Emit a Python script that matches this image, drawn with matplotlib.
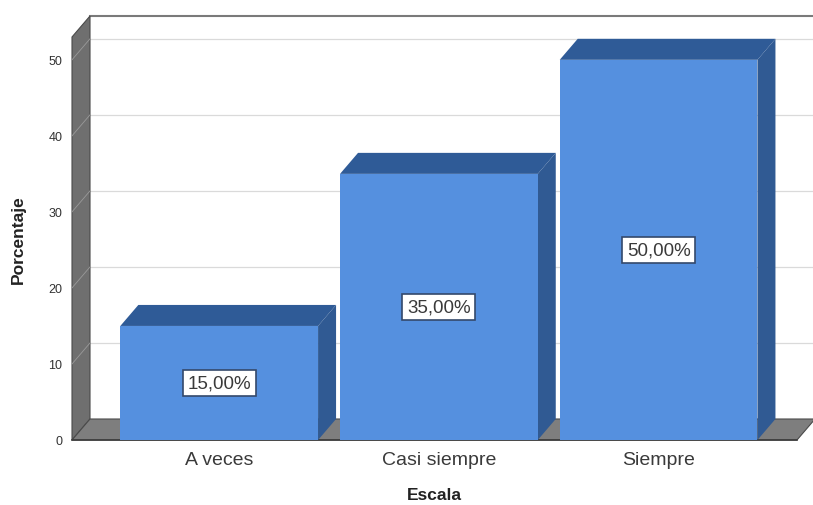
import matplotlib
matplotlib.use('Agg')
import matplotlib.pyplot as plt
from matplotlib.patches import Polygon

# DATA
categorias = ['A veces', 'Casi siempre', 'Siempre']
porcentajes = [15.0, 35.0, 50.0]
yticks = [0, 10, 20, 30, 40, 50]

# STYLE
plt.rcParams['font.family'] = ['Liberation Sans', 'DejaVu Sans']
FRONT = '#5590df'
TOP = '#2f5b97'
SIDE = '#305a93'
WALL = '#6f6f6f'
FLOOR = '#7e7e7e'
EDGE = '#4a4a4a'
GRID = '#dadada'

W, H, DPI = 813, 506, 100
fig = plt.figure(figsize=(W / DPI, H / DPI), dpi=DPI)

# front plane of the chart, in pixels
left_px, right_px, base_px, top_px = 72, 797, 441, 38
ax = fig.add_axes([left_px / W, 1 - base_px / H,
                   (right_px - left_px) / W, (base_px - top_px) / H])
xmin, xmax, ymax = -0.67, 2.63, 53
ax.set_xlim(xmin, xmax)
ax.set_ylim(0, ymax)

# depth of the 3d box, converted from pixels to data units
depth_px = (18, 21)
dx = depth_px[0] * (xmax - xmin) / (right_px - left_px)
dy = depth_px[1] * ymax / (base_px - top_px)
xend = xmax + 3 * dx  # back wall runs past the right edge

# back wall grid and top border
for v in yticks[1:]:
    ax.plot([xmin + dx, xend], [v + dy, v + dy], color=GRID, lw=0.9,
            clip_on=False, zorder=1)
ax.plot([xmin + dx, xend], [ymax + dy, ymax + dy], color='#7a7a7a', lw=1.5,
        clip_on=False, zorder=1)

# left wall
wall = Polygon([(xmin, 0), (xmin, ymax), (xmin + dx, ymax + dy), (xmin + dx, dy)],
               closed=True, fc=WALL, ec=EDGE, lw=0.8, clip_on=False, zorder=2)
ax.add_patch(wall)
for v in yticks[1:]:
    ax.plot([xmin, xmin + dx], [v, v + dy], color='#9a9a9a', lw=0.6,
            clip_on=False, zorder=2.5)

# floor
floor = Polygon([(xmin, 0), (xmax, 0), (xmax + dx, dy), (xmin + dx, dy)],
                closed=True, fc=FLOOR, ec=EDGE, lw=0.8, clip_on=False, zorder=2)
ax.add_patch(floor)
ax.plot([xmin, xmax], [0, 0], color='#3c3c3c', lw=1.2, clip_on=False, zorder=2.6)

# bars: top, side, then front face
bw = 0.9
for i, v in enumerate(porcentajes):
    x0, x1 = i - bw / 2, i + bw / 2
    ax.add_patch(Polygon([(x0, v), (x1, v), (x1 + dx, v + dy), (x0 + dx, v + dy)],
                         closed=True, fc=TOP, ec='none', clip_on=False, zorder=3))
    ax.add_patch(Polygon([(x1, 0), (x1 + dx, dy), (x1 + dx, v + dy), (x1, v)],
                         closed=True, fc=SIDE, ec='none', clip_on=False, zorder=3))
bars = ax.bar(range(len(categorias)), porcentajes, width=bw, color=FRONT,
              edgecolor='none', zorder=4)

for rect, v in zip(bars, porcentajes):
    ax.text(rect.get_x() + rect.get_width() / 2, v / 2,
            '{:.2f}%'.format(v).replace('.', ','),
            ha='center', va='center', fontsize=13.5, color='#3a3a3a', zorder=5,
            bbox=dict(boxstyle='square,pad=0.25', fc='white', ec='#34496b', lw=1.2))

# axes decoration
for s in ax.spines.values():
    s.set_visible(False)
ax.set_facecolor('none')
ax.set_yticks(yticks)
ax.set_yticklabels([str(t) for t in yticks], fontsize=9, color='#333333')
ax.set_xticks(range(len(categorias)))
ax.set_xticklabels(categorias, fontsize=14, color='#3a3a3a')
ax.tick_params(axis='both', length=0)
ax.tick_params(axis='y', pad=7)
ax.tick_params(axis='x', pad=8)

fig.text(18 / W, 1 - 240 / H, 'Porcentaje', rotation=90, ha='center',
         va='center', fontsize=12.5, fontweight='bold', color='#222222')
fig.text(434 / W, 1 - 496 / H, 'Escala', ha='center', va='center',
         fontsize=12.5, fontweight='bold', color='#222222')

fig.savefig('out.png', dpi=DPI, facecolor='white')
